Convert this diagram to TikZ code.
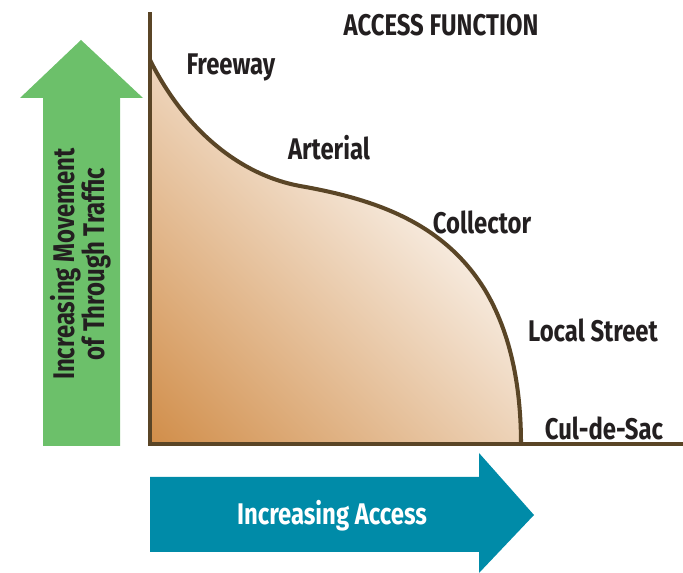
\documentclass[tikz,border=0pt]{standalone}
\usepackage{fontspec}
\setmainfont[FakeStretch=0.8]{Fira Sans}
\usetikzlibrary{positioning}
\definecolor{axisbrown}{HTML}{5A4526}
\definecolor{fillorange}{HTML}{C97A2A}
\definecolor{upgreen}{HTML}{6CC06A}
\definecolor{accblue}{HTML}{008BA8}
\definecolor{labelgray}{HTML}{231F20}

\begin{document}
\begin{tikzpicture}[x=0.02cm,y=-0.02cm,
  lab/.style={font=\bfseries\fontsize{17}{19}\selectfont,text=labelgray,inner sep=0pt},
  axisline/.style={draw=axisbrown,line width=2.3pt}]
  \useasboundingbox (0,0) rectangle (683,573);
  % arrows
  \fill[upgreen] (43,446) -- (43,98) -- (20,98) -- (81,40) -- (143,98) -- (120,98) -- (120,446) -- cycle;
  \fill[accblue] (150,477) -- (479,477) -- (479,453) -- (534,515) -- (479,573) -- (479,552) -- (150,552) -- cycle;
  % area under the curve
  \begin{scope}
    \clip (150,60) .. controls (185,130) and (240,175) .. (300,186)
      .. controls (380,200) and (445,225) .. (485,290)
      .. controls (515,340) and (521,400) .. (521,444) -- (150,444) -- cycle;
    \shade[left color=white,right color=fillorange,shading angle=-45]
      (22,62) rectangle (532,572);
  \end{scope}
  \draw[axisbrown,line width=2.3pt]
    (150,60) .. controls (185,130) and (240,175) .. (300,186)
    .. controls (380,200) and (445,225) .. (485,290)
    .. controls (515,340) and (521,400) .. (521,444);
  \draw[axisline,line cap=rect] (150,14) -- (150,444) -- (683,444);
  % labels
  \node[lab] (title) at (441,25) {ACCESS FUNCTION};
  \node[lab] (freeway) at (231,67) {Freeway};
  \node[lab] (arterial) at (329,148) {Arterial};
  \node[lab] (collector) at (482,222) {Collector};
  \node[lab] (local) at (593,330) {Local Street};
  \node[lab] (culdesac) at (604,428) {Cul-de-Sac};
  \node[lab,rotate=90,align=center,font=\bfseries\fontsize{17}{17}\selectfont] (movement) at (81,264) {Increasing Movement\\of Through Traffic};
  \node[lab,text=white,font=\bfseries\fontsize{17}{20}\selectfont] (access) at (332,516) {Increasing Access};
\end{tikzpicture}
\end{document}
